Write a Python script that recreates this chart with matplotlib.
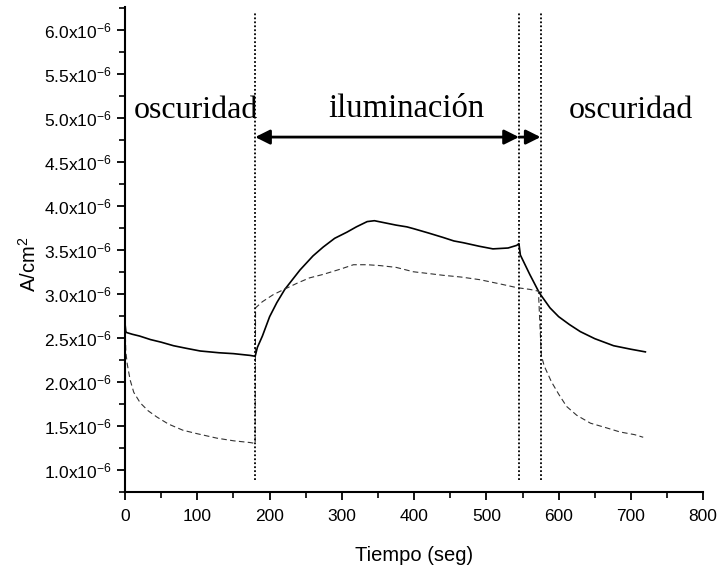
import numpy as np
import matplotlib
matplotlib.use("Agg")
import matplotlib.pyplot as plt
from matplotlib.ticker import MultipleLocator, FuncFormatter

plt.rcParams['font.family'] = ['Liberation Sans', 'DejaVu Sans']
plt.rcParams['mathtext.default'] = 'regular'

# --- datos (corriente en unidades de 1e-6 A/cm2) ---
t_solid = [0, 1, 2, 10, 20, 35, 50, 67, 85, 104, 130, 150, 173, 180,
           183, 190, 200, 210, 221, 242, 260, 274, 290, 307, 320, 335, 345, 357,
           375, 390, 399, 420, 440, 455, 468, 490, 509, 530, 542, 545,
           547, 560, 572, 575, 588, 600, 615, 630, 650, 676, 700, 720]
v_solid = [2.65, 2.57, 2.56, 2.54, 2.52, 2.48, 2.45, 2.41, 2.38, 2.35, 2.33, 2.32, 2.30, 2.29,
           2.39, 2.52, 2.74, 2.90, 3.05, 3.27, 3.43, 3.53, 3.63, 3.70, 3.76, 3.82, 3.83, 3.81,
           3.78, 3.76, 3.74, 3.69, 3.64, 3.60, 3.58, 3.54, 3.51, 3.52, 3.55, 3.57,
           3.44, 3.22, 3.03, 2.99, 2.84, 2.74, 2.65, 2.57, 2.49, 2.41, 2.37, 2.34]

t_dash = [0, 1, 3, 7, 12, 21, 32, 44, 60, 80, 100, 127, 150, 173, 180,
          180.5, 190, 205, 220, 238, 255, 274, 298, 316, 335, 353, 375, 399, 420, 440,
          465, 491, 520, 542, 560, 572,
          576, 580, 590, 600, 611, 625, 644, 665, 685, 705, 717]
v_dash = [2.62, 2.34, 2.20, 2.02, 1.88, 1.76, 1.67, 1.60, 1.52, 1.45, 1.41, 1.36, 1.33, 1.31, 1.30,
          2.84, 2.91, 2.99, 3.05, 3.12, 3.18, 3.22, 3.28, 3.33, 3.33, 3.32, 3.30, 3.25, 3.23, 3.21,
          3.19, 3.16, 3.11, 3.07, 3.05, 3.03,
          2.30, 2.18, 2.00, 1.86, 1.72, 1.62, 1.53, 1.48, 1.43, 1.40, 1.37]

# limites de las fases
t_on = 180
t_off = 545
t_off2 = 575

fig = plt.figure(figsize=(7.19, 5.66), dpi=100)
ax = fig.add_axes([0.174, 0.131, 0.804, 0.857])

ax.plot(t_solid, v_solid, color='black', lw=1.2)
ax.plot(t_dash, v_dash, color='#333333', lw=0.8, linestyle=(0, (5, 3)))

for xv in (t_on, t_off, t_off2):
    ax.plot([xv, xv], [0.88, 6.2], color='black', lw=1.3, linestyle=(0, (1, 1.2)))

# flechas
arr_y = 4.78
ax.annotate('', xy=(t_on, arr_y), xytext=(t_off, arr_y),
            arrowprops=dict(arrowstyle='<|-|>', color='black', lw=2,
                            mutation_scale=22, shrinkA=0, shrinkB=0))
ax.annotate('', xy=(t_off2, arr_y), xytext=(t_off, arr_y),
            arrowprops=dict(arrowstyle='-|>', color='black', lw=2,
                            mutation_scale=22, shrinkA=0, shrinkB=0))

serif = ['Liberation Serif', 'DejaVu Serif']
ax.text(98, 5.08, 'oscuridad', family=serif, fontsize=23, ha='center', va='center')
ax.text(389, 5.1, 'iluminación', family=serif, fontsize=23.5, ha='center', va='center')
ax.text(700, 5.08, 'oscuridad', family=serif, fontsize=23, ha='center', va='center')

ax.set_xlim(0, 800)
ax.set_ylim(0.75, 6.26)
ax.xaxis.set_major_locator(MultipleLocator(100))
ax.xaxis.set_minor_locator(MultipleLocator(50))
ax.yaxis.set_major_locator(MultipleLocator(0.5))
ax.yaxis.set_minor_locator(MultipleLocator(0.25))
ax.yaxis.set_major_formatter(FuncFormatter(
    lambda v, p: f'{v:.1f}x10$^{{-6}}$' if v >= 0.99 else ''))

ax.spines['top'].set_visible(False)
ax.spines['right'].set_visible(False)
for s in ('left', 'bottom'):
    ax.spines[s].set_linewidth(1.5)
ax.tick_params(which='major', direction='out', length=6, width=1.3, labelsize=12.5)
ax.tick_params(axis='x', which='major', pad=6)
ax.tick_params(which='minor', direction='out', length=4, width=1.2)

ax.set_xlabel('Tiempo (seg)', fontsize=14.5, labelpad=16)
ax.set_ylabel('A/cm$^{2}$', fontsize=14.5)
ax.yaxis.set_label_coords(-0.148, 0.468)

plt.savefig('out.png', dpi=100)
